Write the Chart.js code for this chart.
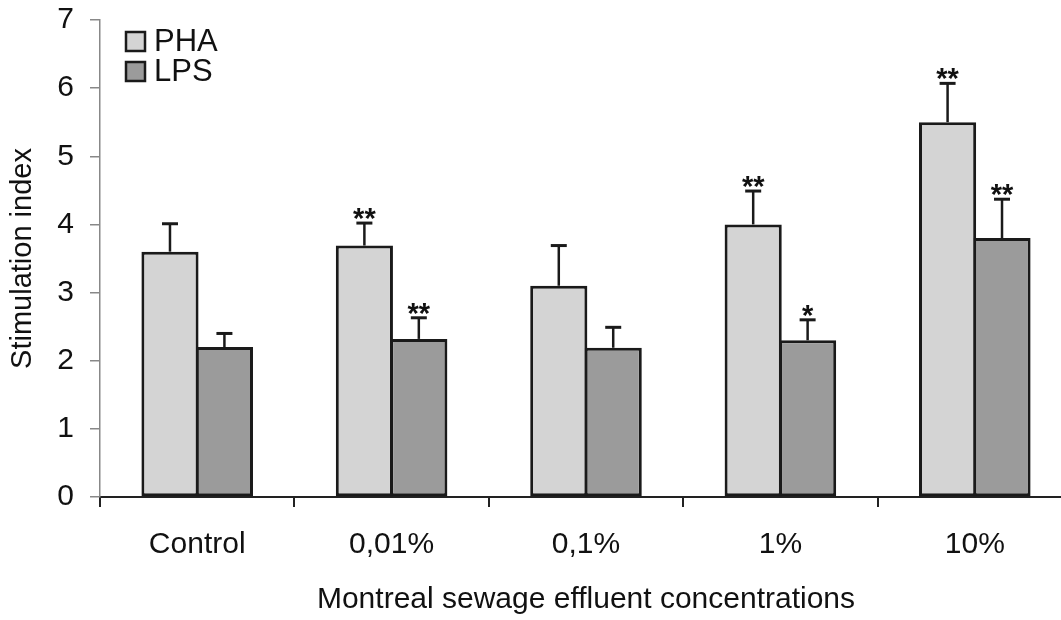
<!DOCTYPE html>
<html>
<head>
<meta charset="utf-8">
<script src="https://cdn.jsdelivr.net/npm/chart.js@4"></script>
<style>
html,body{margin:0;padding:0;background:#fff;overflow:hidden;}
canvas{display:block;}
</style>
</head>
<body>
<canvas id="c" width="1075" height="620"></canvas>
<script>
const categories = ["Control", "0,01%", "0,1%", "1%", "10%"];
const phaValues = [3.6, 3.69, 3.1, 4.0, 5.5];
const phaErrTop = [4.01, 4.02, 3.69, 4.49, 6.07];
const phaSig = ["", "**", "", "**", "**"];
const lpsValues = [2.2, 2.32, 2.19, 2.3, 3.8];
const lpsErrTop = [2.4, 2.63, 2.49, 2.6, 4.37];
const lpsSig = ["", "**", "", "*", "**"];
const yTicks = [0, 1, 2, 3, 4, 5, 6, 7];

const FONT = 'Arial, "Liberation Sans", sans-serif';
const errTops = [phaErrTop, lpsErrTop];
const sigs = [phaSig, lpsSig];

const errorBars = {
  id: 'errorBars',
  afterDatasetsDraw(chart) {
    const ctx = chart.ctx;
    const ys = chart.scales.y;
    chart.data.datasets.forEach((ds, di) => {
      const meta = chart.getDatasetMeta(di);
      meta.data.forEach((bar, i) => {
        const x = bar.x;
        const yTop = bar.y;
        const yErr = ys.getPixelForValue(errTops[di][i]);
        ctx.save();
        ctx.strokeStyle = '#1a1a1a';
        ctx.lineWidth = 2.5;
        ctx.beginPath();
        ctx.moveTo(x, yTop);
        ctx.lineTo(x, yErr);
        ctx.stroke();
        ctx.lineWidth = 3;
        ctx.beginPath();
        ctx.moveTo(x - 8, yErr);
        ctx.lineTo(x + 8, yErr);
        ctx.stroke();
        const s = sigs[di][i];
        if (s) {
          ctx.fillStyle = '#111';
          ctx.font = 'bold 29px ' + FONT;
          ctx.textAlign = 'center';
          ctx.textBaseline = 'alphabetic';
          ctx.fillText(s, x, yErr + 5);
        }
        ctx.restore();
      });
    });
  }
};

const customLegend = {
  id: 'customLegend',
  afterDraw(chart) {
    const ctx = chart.ctx;
    ctx.save();
    chart.data.datasets.forEach((ds, di) => {
      const bx = 126, by = 32 + di * 30;
      ctx.fillStyle = ds.backgroundColor;
      ctx.fillRect(bx, by, 19, 19);
      ctx.strokeStyle = '#1a1a1a';
      ctx.lineWidth = 2.5;
      ctx.strokeRect(bx, by, 19, 19);
      ctx.fillStyle = '#111';
      ctx.font = '31px ' + FONT;
      ctx.textAlign = 'left';
      ctx.textBaseline = 'middle';
      ctx.fillText(ds.label, 154, by + 10);
    });
    ctx.restore();
  }
};

new Chart(document.getElementById('c'), {
  type: 'bar',
  data: {
    labels: categories,
    datasets: [
      { label: 'PHA', data: phaValues, backgroundColor: '#d4d4d4', borderColor: '#1a1a1a', borderWidth: 3, borderSkipped: false },
      { label: 'LPS', data: lpsValues, backgroundColor: '#9b9b9b', borderColor: '#1a1a1a', borderWidth: 3, borderSkipped: false }
    ]
  },
  options: {
    responsive: false,
    animation: false,
    layout: { padding: { top: 20, right: 3, left: 0, bottom: 0 } },
    datasets: { bar: { categoryPercentage: 0.56, barPercentage: 1.05 } },
    plugins: { legend: { display: false }, tooltip: { enabled: false } },
    scales: {
      x: {
        offset: true,
        grid: { display: true, drawOnChartArea: false, drawTicks: true, tickLength: 10, tickColor: '#222', lineWidth: 2, offset: true },
        border: { color: '#222', width: 2 },
        ticks: { color: '#111', font: { family: FONT, size: 30 }, padding: 20, maxRotation: 0 },
        title: { display: true, text: 'Montreal sewage effluent concentrations', color: '#111', font: { family: FONT, size: 30 }, padding: { top: 0, bottom: 2 } },
        afterFit(scale) { scale.height = 123; scale.paddingLeft = 0; scale.paddingRight = 0; }
      },
      y: {
        min: 0, max: 7,
        afterBuildTicks(scale) { scale.ticks = yTicks.map(v => ({ value: v })); },
        grid: { display: true, drawOnChartArea: false, drawTicks: true, tickLength: 10, tickColor: '#888', lineWidth: 1.5 },
        border: { color: '#888', width: 1.5 },
        ticks: { color: '#111', font: { family: FONT, size: 30 }, padding: 16 },
        title: { display: true, text: 'Stimulation index', color: '#111', font: { family: FONT, size: 29 }, padding: { top: 6, bottom: 0 } },
        afterFit(scale) { scale.width = 100; scale.paddingTop = 0; scale.paddingBottom = 0; }
      }
    }
  },
  plugins: [errorBars, customLegend]
});
</script>
</body>
</html>
